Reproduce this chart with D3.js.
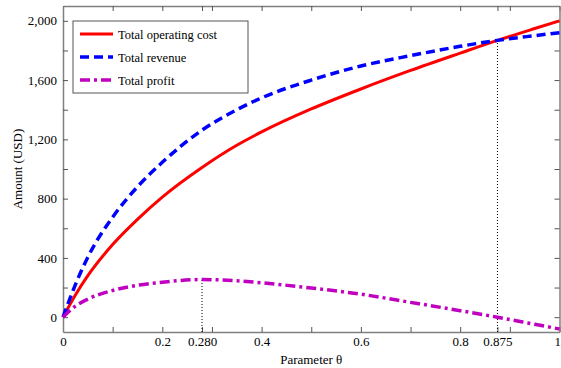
<!DOCTYPE html>
<html>
<head>
<meta charset="utf-8">
<script src="https://cdn.jsdelivr.net/npm/d3@7"></script>
<style>
  body { margin: 0; background: #fff; }
</style>
</head>
<body>
<script>
// parameter values and the three series
const theta   = [0, 0.025, 0.05, 0.1, 0.15, 0.2, 0.28, 0.35, 0.4, 0.5, 0.6, 0.7, 0.8, 0.875, 0.95, 1];
const cost    = [0, 150, 280, 490, 660, 810, 1010, 1160, 1250, 1405, 1540, 1665, 1782, 1868, 1948, 2000];
const revenue = [0, 220, 405, 675, 880, 1045, 1262, 1400, 1480, 1600, 1695, 1765, 1828, 1868, 1900, 1920];
const profit  = [0, 75, 122, 180, 215, 236, 254, 246, 232, 197, 155, 100, 44, 0, -48, -80];

const xTicks = [0, 0.1, 0.2, 0.28, 0.3, 0.4, 0.5, 0.6, 0.7, 0.8, 0.875, 0.9, 1];
const xLabels = {0: "0", 0.2: "0.2", 0.28: "0.280", 0.4: "0.4", 0.6: "0.6", 0.8: "0.8", 0.875: "0.875", 1: "1"};
const yTicks = [0, 200, 400, 600, 800, 1000, 1200, 1400, 1600, 1800, 2000];
const yLabeled = [0, 400, 800, 1200, 1600, 2000];

const seriesNames = ["Total operating cost", "Total revenue", "Total profit"];
const seriesColors = ["#ff0000", "#0000ff", "#c000c0"];
const seriesDash = [null, "9,5", "10,4,3,4"];

const W = 561, H = 368;
const pLeft = 63, pRight = 559.5, pTop = 6, pBottom = 332;
const FONT = "'Liberation Serif', 'Times New Roman', 'DejaVu Serif', serif";

const x = d3.scaleLinear().domain([0, 1]).range([pLeft, pRight]);
const y = d3.scaleLinear().domain([-100, 2100]).range([pBottom, pTop]);

const svg = d3.select("body").append("svg")
    .attr("width", W)
    .attr("height", H)
    .attr("font-family", FONT);

const axisCol = "#808080";

// axes, ticks inward
const gx = svg.append("g").attr("transform", `translate(0,${pBottom})`)
    .call(d3.axisBottom(x).tickValues(xTicks).tickSize(-5).tickSizeOuter(0).tickPadding(5)
      .tickFormat(d => xLabels[d] !== undefined ? xLabels[d] : ""));
const gxTop = svg.append("g").attr("transform", `translate(0,${pTop})`)
    .call(d3.axisTop(x).tickValues(xTicks).tickSize(-5).tickSizeOuter(0).tickFormat(""));
const gy = svg.append("g").attr("transform", `translate(${pLeft},0)`)
    .call(d3.axisLeft(y).tickValues(yTicks).tickSize(-5).tickSizeOuter(0).tickPadding(6)
      .tickFormat(d => yLabeled.includes(d) ? d3.format(",")(d) : ""));
const gyRight = svg.append("g").attr("transform", `translate(${pRight},0)`)
    .call(d3.axisRight(y).tickValues(yTicks).tickSize(-5).tickSizeOuter(0).tickFormat(""));

[gx, gxTop, gy, gyRight].forEach(g => {
  g.attr("font-family", FONT).attr("font-size", 13);
  g.select(".domain").attr("stroke", axisCol).attr("stroke-width", 1.5);
  g.selectAll(".tick line").attr("stroke", "#555").attr("stroke-width", 1);
  g.selectAll(".tick text").attr("fill", "#000");
});

// last x label sits on the page edge; keep it inside
gx.selectAll(".tick").filter(d => d === 1).select("text")
    .attr("text-anchor", "end").attr("x", 1);

// dotted guide lines
const guides = [[0.28, profit[theta.indexOf(0.28)]], [0.875, cost[theta.indexOf(0.875)]]];
svg.selectAll(".guide").data(guides).enter().append("line")
    .attr("class", "guide")
    .attr("x1", d => x(d[0])).attr("x2", d => x(d[0]))
    .attr("y1", pBottom).attr("y2", d => y(d[1]))
    .attr("stroke", "#000").attr("stroke-width", 1)
    .attr("stroke-dasharray", "1,2");

// curves
const line = d3.line()
    .x((d, i) => x(theta[i]))
    .y(d => y(d))
    .curve(d3.curveMonotoneX);

const allSeries = [cost, revenue, profit];
svg.selectAll(".series").data(allSeries).enter().append("path")
    .attr("class", "series")
    .attr("d", d => line(d))
    .attr("fill", "none")
    .attr("stroke", (d, i) => seriesColors[i])
    .attr("stroke-width", (d, i) => i === 0 ? 3 : 3.5)
    .attr("stroke-dasharray", (d, i) => seriesDash[i]);

// legend
const lg = svg.append("g").attr("transform", "translate(73,21)");
lg.append("rect")
    .attr("width", 175).attr("height", 72)
    .attr("fill", "#fff").attr("stroke", "#555").attr("stroke-width", 1);
seriesNames.forEach((name, i) => {
  const yy = 13 + i * 23;
  lg.append("line")
      .attr("x1", 7).attr("x2", 40).attr("y1", yy).attr("y2", yy)
      .attr("stroke", seriesColors[i])
      .attr("stroke-width", i === 0 ? 3 : 3.5)
      .attr("stroke-dasharray", seriesDash[i]);
  lg.append("text")
      .attr("x", 45).attr("y", yy + 5)
      .attr("font-size", 12.5)
      .text(name);
});

// axis titles
svg.append("text")
    .attr("x", (pLeft + pRight) / 2).attr("y", 364)
    .attr("text-anchor", "middle")
    .attr("font-size", 13)
    .text("Parameter θ");

svg.append("text")
    .attr("transform", `translate(22,${(pTop + pBottom) / 2}) rotate(-90)`)
    .attr("text-anchor", "middle")
    .attr("font-size", 13)
    .text("Amount (USD)");
</script>
</body>
</html>
